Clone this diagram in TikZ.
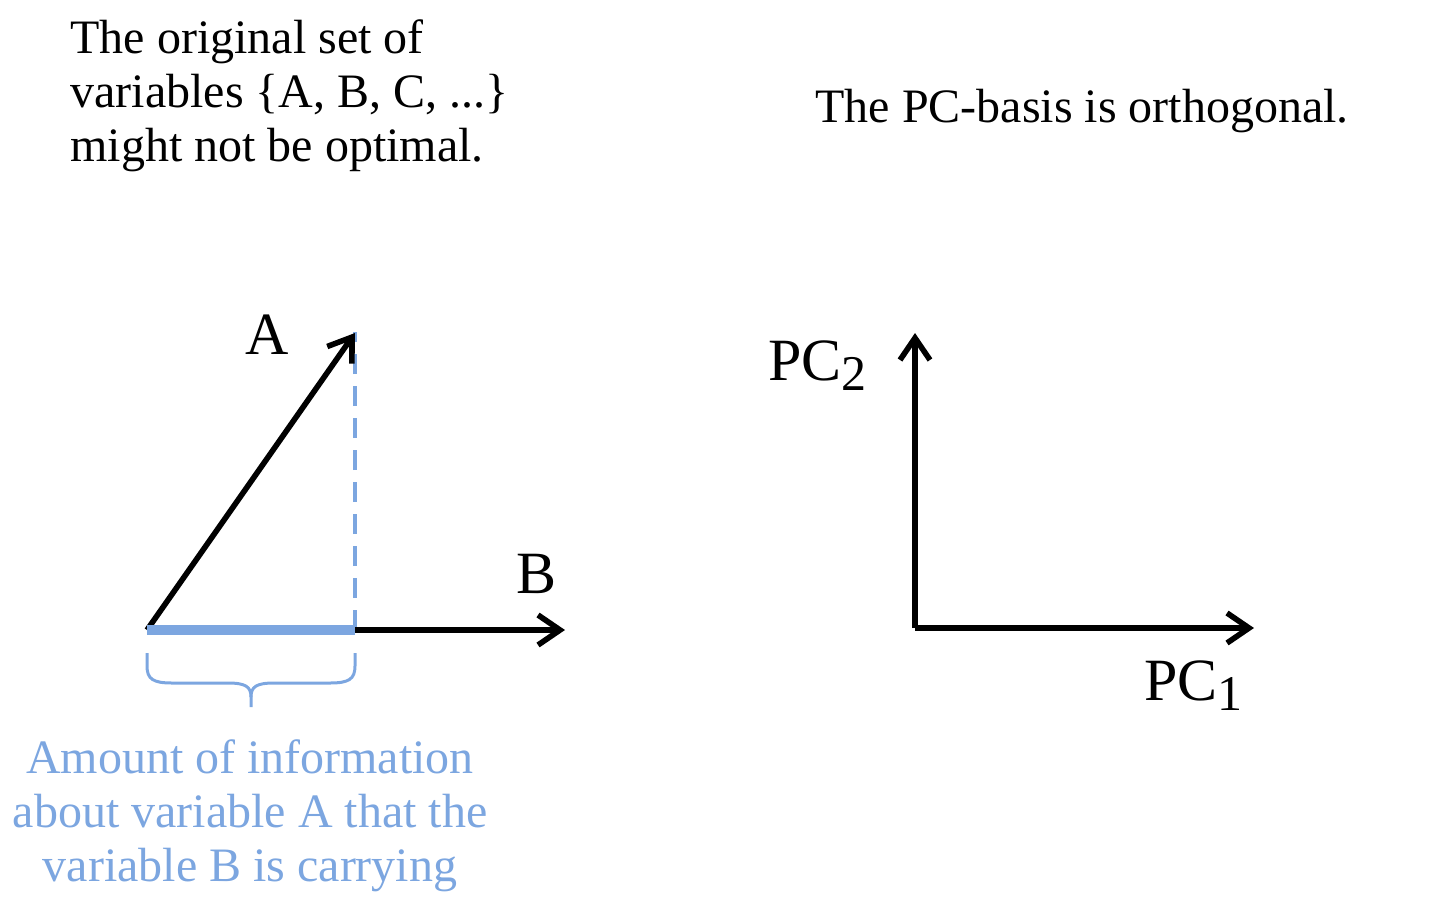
\documentclass[tikz,border=0pt]{standalone}
\usepackage{fontspec}
\setmainfont{Liberation Serif}
\usetikzlibrary{arrows.meta}
\definecolor{infoblue}{RGB}{124,166,224}
\newcommand{\pcsub}[1]{\raisebox{-5pt}{\fontsize{25}{25}\selectfont #1}}
\tikzset{
  vec/.style={line width=2.8pt,-{Straight Barb[length=11pt,width=15pt]}},
  txt/.style={inner sep=0pt,font=\fontsize{24}{27}\selectfont},
  lbl/.style={inner sep=0pt,font=\fontsize{30}{34}\selectfont},
  proj/.style={infoblue,line width=2.4pt,dash pattern=on 10pt off 6pt},
  projbar/.style={infoblue,line width=5pt},
  bracepath/.style={infoblue,line width=1.5pt}
}
\begin{document}
\begin{tikzpicture}[x=0.5pt,y=-0.5pt]
\useasboundingbox (0,0) rectangle (1440,906);
% texts (base anchor = baseline of last line)
\node[txt,anchor=base west,align=left] (orig) at (70,161)
  {The original set of\\variables \{A, B, C, ...\}\\might not be optimal.};
\node[txt,anchor=base west] (pcnote) at (815,122) {The PC-basis is orthogonal.};
% left diagram
\coordinate (O) at (147,630);
\coordinate (Atip) at (355,333);
\coordinate (P) at (355,630);
\coordinate (Btip) at (565,630);
\draw[proj] (P) -- (355,332) coordinate (Ptop);
\draw[vec] (O) -- (Atip);
\draw[vec] (P) -- (Btip);
\draw[projbar] (O) -- (P);
\node[lbl,anchor=base] (Alab) at (267,354) {A};
\node[lbl,anchor=base] (Blab) at (537,593) {B};
% brace
\coordinate (BrL) at (147,653);
\coordinate (BrR) at (355,653);
\coordinate (BrM) at (251,707);
\draw[bracepath] (BrL) -- (147,666) .. controls (147,679) and (153,683) .. (172,683)
  -- (228,683) .. controls (246,683) and (251,687) .. (251,697) -- (BrM);
\draw[bracepath] (BrR) -- (355,666) .. controls (355,679) and (349,683) .. (330,683)
  -- (274,683) .. controls (256,683) and (251,687) .. (251,697);
\node[txt,text=infoblue,align=center,anchor=base] (info) at (250,881)
  {Amount of information\\about variable A that the\\variable B is carrying};
% right diagram
\coordinate (Q) at (915,628);
\coordinate (PC2tip) at (915,333);
\coordinate (PC1tip) at (1254,628);
\draw[vec] (Q) -- (PC2tip);
\draw[vec] (Q) -- (PC1tip);
\node[lbl,anchor=base west] (pc2) at (768,380) {PC\pcsub{2}};
\node[lbl,anchor=base west] (pc1) at (1144,700) {PC\pcsub{1}};
\end{tikzpicture}
\end{document}
